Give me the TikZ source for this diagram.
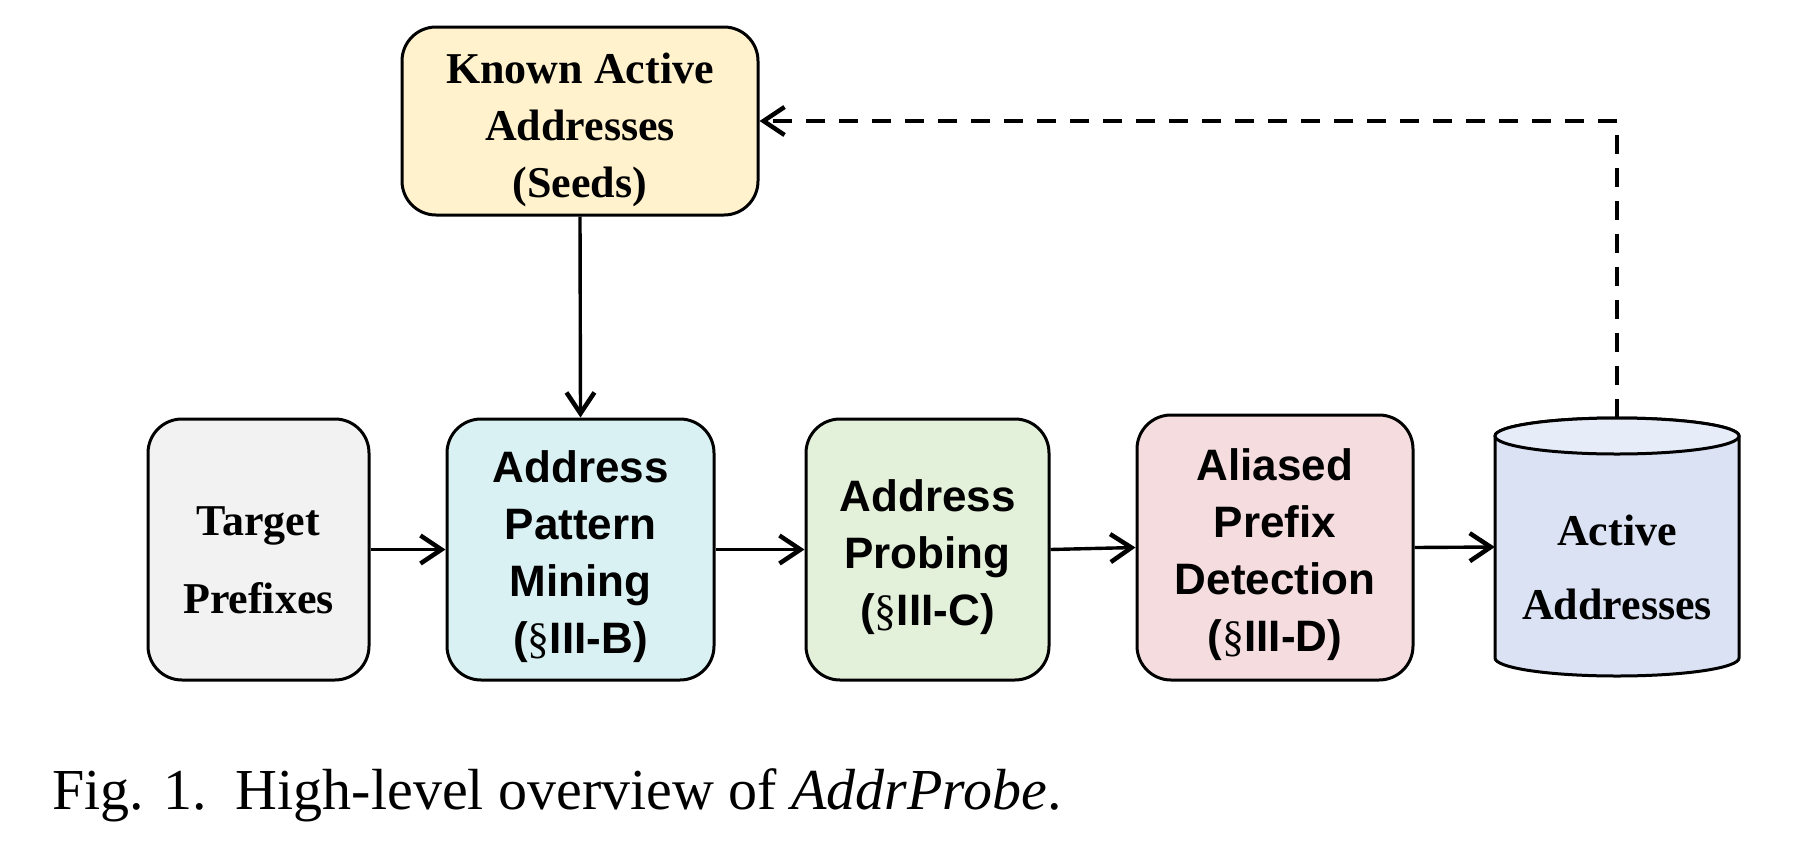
\documentclass[tikz,border=0pt]{standalone}
\usepackage{fontspec}
\setmainfont{Liberation Serif}
\setsansfont{Liberation Sans}
\usetikzlibrary{arrows.meta}
\definecolor{seedfill}{HTML}{FFF2CC}
\definecolor{greyfill}{HTML}{F2F2F2}
\definecolor{cyanfill}{HTML}{DAF1F3}
\definecolor{greenfill}{HTML}{E3F0DA}
\definecolor{pinkfill}{HTML}{F4DCDF}
\definecolor{cylbody}{HTML}{DAE2F3}
\definecolor{cyltop}{HTML}{E6ECF8}
\newcommand{\secsym}{{\rmfamily\mdseries\S}}
\begin{document}
\begin{tikzpicture}[x=1pt,y=1pt,
  box/.style={draw=black, line width=3pt, rounded corners=34pt, inner sep=0pt, anchor=center},
  serifbold/.style={font=\fontsize{44}{57}\selectfont\bfseries\rmfamily, align=center, inner sep=0pt},
  sansbold/.style={font=\fontsize{44}{57}\selectfont\bfseries\sffamily, align=center, inner sep=0pt},
  flow/.style={line width=3.4pt, -{Straight Barb[length=21pt,width=28pt,line width=4.5pt]}},
  feedback/.style={flow, dash pattern=on 19pt off 14pt, line width=4pt},
  ]
\useasboundingbox (0,0) rectangle (1796,-862);

% seed addresses
\node[box, fill=seedfill, minimum width=356pt, minimum height=188pt] (seeds) at (580,-121) {};
\node[serifbold] (seedstext) at ([yshift=-9pt]seeds.center) {Known Active\\Addresses\\(Seeds)};

% pipeline stages
\node[box, fill=greyfill, minimum width=221pt, minimum height=261pt] (target) at (258.5,-549.5) {};
\node[serifbold, font=\fontsize{44}{78}\selectfont\bfseries\rmfamily] (targettext)
  at ([yshift=-11pt]target.center) {Target\\Prefixes};

\node[box, fill=cyanfill, minimum width=267pt, minimum height=261pt] (mining) at (580.5,-549.5) {};
\node[sansbold] (miningtext) at ([yshift=-7pt]mining.center)
  {Address\\Pattern\\Mining\\(\secsym III-B)};

\node[box, fill=greenfill, minimum width=243pt, minimum height=261pt] (probing) at (927.5,-549.5) {};
\node[sansbold] (probingtext) at ([yshift=-8pt]probing.center)
  {Address\\Probing\\(\secsym III-C)};

\node[box, fill=pinkfill, minimum width=276pt, minimum height=265pt] (aliased) at (1275,-547.5) {};
\node[sansbold] (aliasedtext) at ([yshift=-7pt]aliased.center)
  {Aliased\\Prefix\\Detection\\(\secsym III-D)};

% output store (cylinder)
\draw[line width=3pt, fill=cylbody] (1495,-436) -- (1495,-658)
  arc[start angle=180, end angle=360, x radius=122, y radius=18] -- (1739,-436)
  arc[start angle=0, end angle=180, x radius=122, y radius=18] -- cycle;
\draw[line width=3pt, fill=cyltop] (1617,-436) ellipse [x radius=122, y radius=18];
\node[inner sep=0pt, minimum width=244pt, minimum height=258pt] (active) at (1617,-547) {};
\node[serifbold, font=\fontsize{44}{74}\selectfont\bfseries\rmfamily] (activetext) at (1617,-567)
  {Active\\Addresses};

% connectors
\draw[flow] (seeds.south) -- (mining.north);
\draw[flow] (target.east) -- (mining.west);
\draw[flow] (mining.east) -- (probing.west);
\draw[flow] (probing.east) -- (aliased.west);
\draw[flow] (aliased.east) -- (active.west);
\draw[feedback] (active.north) |- (seeds.east);

% caption
\node[anchor=base west, inner sep=0pt, font=\fontsize{58}{70}\selectfont] (caption) at (52,-809)
  {Fig. 1.\hspace{0.5em}High-level overview of \textit{AddrProbe}.};
\end{tikzpicture}
\end{document}
